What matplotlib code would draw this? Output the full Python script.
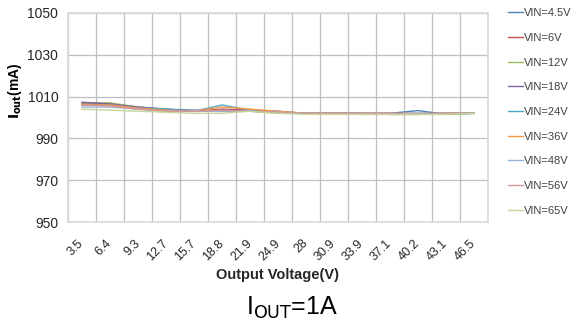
import numpy as np
import matplotlib.pyplot as plt

plt.rcParams['font.family'] = ['Liberation Sans', 'DejaVu Sans']

# Data
vout = ['3.5', '6.4', '9.3', '12.7', '15.7', '18.8', '21.9', '24.9', '28',
        '30.9', '33.9', '37.1', '40.2', '43.1', '46.5']
vin_4p5 = [1007.0, 1006.5, 1005.0, 1004.0, 1003.5, 1003.5, 1003.5, 1003.0, 1002.0, 1002.0, 1002.0, 1002.0, 1003.3, 1001.5, 1002.0]
vin_6 = [1006.5, 1006.0, 1004.5, 1003.5, 1003.0, 1004.0, 1003.5, 1002.5, 1002.0, 1002.0, 1002.0, 1002.0, 1002.0, 1002.0, 1002.0]
vin_12 = [1007.0, 1007.0, 1005.0, 1003.5, 1003.0, 1003.0, 1003.0, 1002.0, 1002.0, 1002.0, 1001.5, 1001.5, 1001.5, 1001.5, 1002.0]
vin_18 = [1007.3, 1006.5, 1005.0, 1004.0, 1003.0, 1003.5, 1003.5, 1002.5, 1002.0, 1002.0, 1002.0, 1001.5, 1001.5, 1002.0, 1002.0]
vin_24 = [1006.0, 1006.0, 1004.5, 1004.0, 1003.0, 1006.0, 1003.5, 1002.5, 1002.0, 1002.0, 1002.0, 1001.5, 1001.5, 1002.0, 1002.0]
vin_36 = [1006.0, 1006.0, 1004.5, 1003.5, 1003.0, 1005.0, 1004.0, 1003.0, 1002.0, 1002.0, 1002.0, 1001.5, 1001.5, 1002.0, 1002.0]
vin_48 = [1005.0, 1005.0, 1004.0, 1003.0, 1003.0, 1003.0, 1003.0, 1002.5, 1002.0, 1002.0, 1002.0, 1002.0, 1002.0, 1002.0, 1002.0]
vin_56 = [1006.0, 1005.5, 1004.0, 1003.0, 1003.0, 1003.5, 1003.0, 1002.5, 1002.0, 1002.0, 1002.0, 1002.0, 1001.5, 1002.0, 1002.0]
vin_65 = [1004.0, 1003.5, 1003.0, 1002.5, 1002.0, 1002.0, 1003.0, 1002.0, 1001.5, 1001.5, 1001.5, 1001.5, 1001.5, 1001.5, 1002.0]

series = [('VIN=4.5V', vin_4p5, '#4F81BD'),
          ('VIN=6V', vin_6, '#C0504D'),
          ('VIN=12V', vin_12, '#9BBB59'),
          ('VIN=18V', vin_18, '#8064A2'),
          ('VIN=24V', vin_24, '#4BACC6'),
          ('VIN=36V', vin_36, '#F79646'),
          ('VIN=48V', vin_48, '#95B3D7'),
          ('VIN=56V', vin_56, '#D99694'),
          ('VIN=65V', vin_65, '#C3D69B')]

fig = plt.figure(figsize=(5.72, 3.25), dpi=100)
ax = fig.add_axes([68/572, 1 - 222/325, 420/572, 209/325])

x = np.arange(len(vout))
for name, vals, col in series:
    ax.plot(x, vals, color=col, lw=1.0, label=name)

ax.set_xlim(-0.5, len(vout) - 0.5)
ax.set_ylim(950, 1050)
ax.set_yticks(np.arange(950, 1051, 20))
ax.set_xticks(x)
ax.set_xticklabels(vout, rotation=45, fontsize=9, color='#262626',
                   ha='right', va='center', rotation_mode='anchor')
ax.set_xticks(np.arange(-0.5, len(vout), 1), minor=True)
ax.tick_params(axis='x', which='both', length=0, pad=14)
ax.tick_params(axis='y', length=0, labelsize=10, pad=7, colors='#262626')

ax.grid(True, which='minor', axis='x', color='#BFBFBF', lw=0.9)
ax.grid(True, which='major', axis='y', color='#BFBFBF', lw=0.9)
ax.set_axisbelow(True)
for s in ax.spines.values():
    s.set_color('#D9D9D9')
    s.set_linewidth(1.2)

ax.set_ylabel(r'$\mathbf{I_{out}}$(mA)', fontsize=10, fontweight='bold')
ax.yaxis.set_label_coords(-0.105, 0.627)
ax.set_xlabel('Output Voltage(V)', fontsize=10.5, fontweight='bold', labelpad=4, color='#262626')

leg = ax.legend(loc='upper left', bbox_to_anchor=(1.025, 1.07), frameon=False,
                fontsize=8, handlelength=1.3, handletextpad=0.1,
                labelspacing=1.32, labelcolor='#404040')

fig.text(292/572, 1 - 308/325, r'I$_{\mathrm{OUT}}$=1A', fontsize=18,
         ha='center', va='center')

fig.savefig('out.png', dpi=100)
